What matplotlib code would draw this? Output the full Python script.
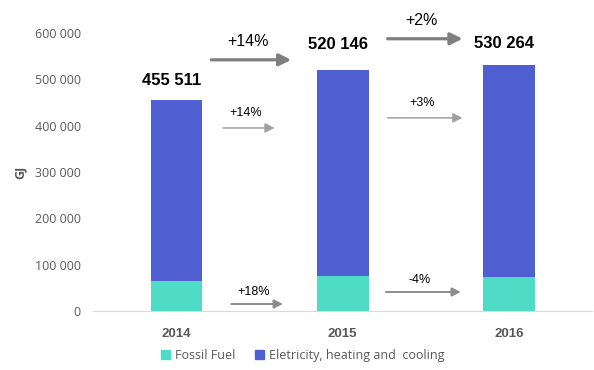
import matplotlib.pyplot as plt
from matplotlib.patches import Patch

years = ['2014', '2015', '2016']
totals = [455511, 520146, 530264]
fossil = [64500, 76000, 73500]
electricity = [t - f for t, f in zip(totals, fossil)]
total_labels = ['455 511', '520 146', '530 264']

# change arrows: (x start, x end, y, label)
big_arrows = [(0.21, 0.69, 542000, '+14%'), (1.27, 1.72, 587500, '+2%')]
elec_arrows = [(0.28, 0.59, 395000, '+14%'), (1.27, 1.72, 416800, '+3%')]
fossil_arrows = [(0.33, 0.64, 15100, '+18%'), (1.26, 1.71, 41000, '-4%')]
label_y = [496800, 574500, 576700]

c_fossil = '#4fdcc7'
c_elec = '#4f5fd2'
grey = '#595959'

fig = plt.figure(figsize=(5.94, 3.70), dpi=100)
ax = fig.add_axes([0.157, 0.1595, 0.84, 0.7514])

x = range(len(years))
ax.bar(x, fossil, width=0.31, color=c_fossil)
ax.bar(x, electricity, width=0.31, bottom=fossil, color=c_elec)

for i, lab in enumerate(total_labels):
    ax.text(i - 0.03, label_y[i], lab, ha='center', va='center',
            fontsize=12, fontweight='bold', family='Liberation Sans')

def arrow(x0, x1, y, txt, lw, color, ms, fs, dy):
    ax.annotate('', xy=(x1, y), xytext=(x0, y),
                arrowprops=dict(arrowstyle='-|>', lw=lw, color=color,
                                mutation_scale=ms, shrinkA=0, shrinkB=0),
                annotation_clip=False)
    ax.text((x0 + x1) / 2 - 0.02, y + dy, txt, ha='center', va='center',
            fontsize=fs, family='Liberation Sans', clip_on=False)

for x0, x1, y, t in big_arrows:
    arrow(x0, x1, y, t, 2.3, '#7f7f7f', 18, 11.5, 40000)
for x0, x1, y, t in elec_arrows:
    arrow(x0, x1, y, t, 1.1, '#a0a0a0', 14, 9, 32000)
for x0, x1, y, t in fossil_arrows:
    arrow(x0, x1, y, t, 1.4, '#8c8c8c', 13, 9, 25000)

ax.set_xlim(-0.5, 2.5)
ax.set_ylim(0, 600000)
ax.set_xticks(list(x))
ax.set_xticklabels(years, fontsize=9.5, fontweight='bold', color=grey,
                   family='Liberation Sans')
ax.set_yticks(range(0, 600001, 100000))
ax.set_yticklabels(['0' if v == 0 else f'{v // 1000} 000' for v in range(0, 600001, 100000)],
                   fontsize=9, color=grey, family='Open Sans')
ax.tick_params(length=0, pad=9)
ax.tick_params(axis='x', pad=12)
for s in ['top', 'right', 'left']:
    ax.spines[s].set_visible(False)
ax.spines['bottom'].set_color('#d9d9d9')
ax.set_ylabel('GJ', fontsize=9, color=grey, fontweight='bold', family='Open Sans', labelpad=6)

handles = [Patch(color=c_fossil, label='Fossil Fuel'),
           Patch(color=c_elec, label='Eletricity, heating and  cooling')]
fig.legend(handles=handles, loc='center', bbox_to_anchor=(0.51, 0.04), ncol=2,
           frameon=False, handlelength=0.7, handleheight=0.7, handletextpad=0.4,
           columnspacing=1.6, prop={'family': 'Open Sans', 'size': 9},
           labelcolor=grey)

fig.savefig('out.png', dpi=100)
